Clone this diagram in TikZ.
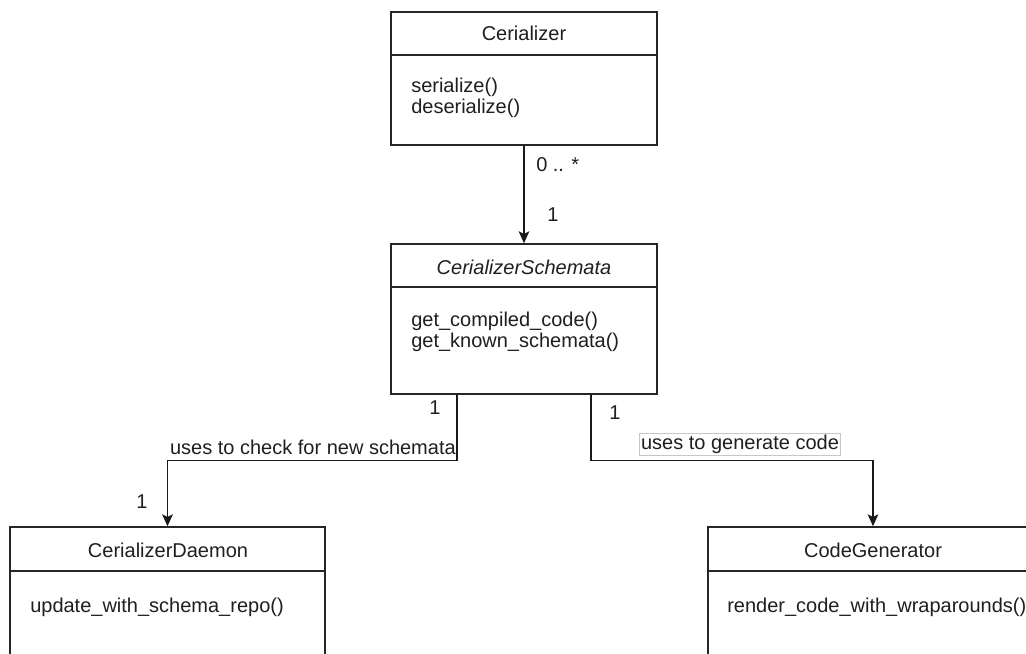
\documentclass[tikz,border=0pt]{standalone}
\usepackage{fontspec}
\setmainfont{Liberation Sans}
\usetikzlibrary{fit,calc,arrows.meta}
\begin{document}
\begin{tikzpicture}[x=0.75pt,y=-0.75pt,
  every node/.style={font=\fontsize{15}{15.8}\selectfont, inner sep=0pt, text=black!88},
  cls/.style={draw=black!85, line width=1.1pt, inner sep=0pt},
  divider/.style={draw=black!85, line width=1.1pt},
  members/.style={anchor=west, align=left},
  mult/.style={anchor=center},
  arr/.style={draw=black!90, line width=1.1pt, -{Stealth[length=9pt,width=8pt,inset=2pt]}}
]
\useasboundingbox (0,0) rectangle (1026,654);
\fill[white] (0,0) rectangle (1026,654);
\clip (0,0) rectangle (1026,654);

% classes
\node[cls, fit={(391,12) (657,145)}] (cer) {};
\draw[divider] (cer.west |- 0,55) -- (cer.east |- 0,55);
\node (cerT) at (524,33) {Cerializer};
\node[members] (cerM) at (411,98) {serialize()\\deserialize()};

\node[cls, fit={(391,244) (657,394)}] (sch) {};
\draw[divider] (sch.west |- 0,287) -- (sch.east |- 0,287);
\node (schT) at (524,267) {\itshape CerializerSchemata};
\node[members] (schM) at (411,332) {get\_compiled\_code()\\get\_known\_schemata()};

\node[cls, fit={(10,527) (325,700)}] (dae) {};
\draw[divider] (dae.west |- 0,571) -- (dae.east |- 0,571);
\node (daeT) at (168,550) {CerializerDaemon};
\node[members] (daeM) at (30,607) {update\_with\_schema\_repo()};

\node[cls, fit={(708,527) (1038,700)}] (gen) {};
\draw[divider] (gen.west |- 0,571) -- (gen.east |- 0,571);
\node (genT) at (873,550) {CodeGenerator};
\node[members] (genM) at (727,607) {render\_code\_with\_wraparounds()};

% connectors
\draw[arr] (cer.south) -- (sch.north);
\coordinate (sl) at ($(sch.south west)!0.25!(sch.south east)$);
\coordinate (sr) at ($(sch.south west)!0.75!(sch.south east)$);
\draw[arr] (sl) -- ++(0,66) -| (dae.north);
\draw[arr] (sr) -- ++(0,66) -| (gen.north);

% labels
\node[anchor=west] (m1) at (536,165) {0 .. *};
\node[mult] (m2) at (553,215) {1};
\node[mult] (m3) at (435,408) {1};
\node[mult] (m4) at (615,413) {1};
\node[mult] (m5) at (142,502) {1};
\node[anchor=east] (l1) at (456,447) {uses to check for new schemata};
\node[draw=black!22, line width=0.6pt, fill=white, inner sep=1.2pt] (l2) at (740,444.5) {uses to generate code};
\end{tikzpicture}
\end{document}
